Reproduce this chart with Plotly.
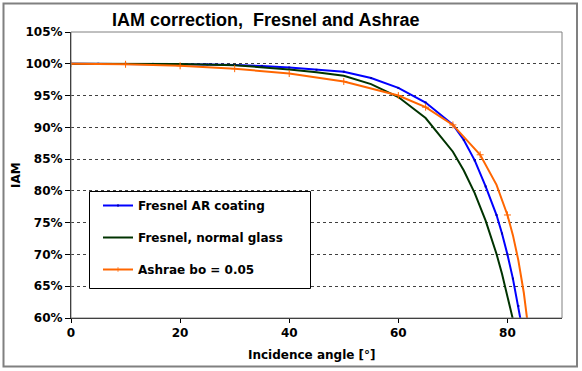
import plotly.graph_objects as go

# ---- data ----
ar_angle = [0, 5, 10, 15, 20, 25, 30, 35, 40, 45, 50, 55, 60, 65, 70, 72, 74, 76, 78, 79, 80, 81, 82, 83, 84]
ar_iam = [100, 100, 100, 99.98, 99.95, 99.9, 99.8, 99.67, 99.4, 99.05, 98.75, 97.75, 96.2, 93.9, 90.4,
          88.0, 84.8, 80.7, 76.2, 73.3, 70.0, 66.2, 61.9, 57.0, 51.0]

glass_angle = [0, 10, 20, 30, 35, 40, 45, 50, 55, 60, 65, 70, 72, 74, 76, 77, 78, 79, 80, 81, 82]
glass_iam = [100, 100, 99.97, 99.78, 99.45, 99.1, 98.65, 98.1, 96.8, 94.77, 91.46, 86.16, 83.21,
             79.64, 75.31, 72.81, 70.06, 66.96, 63.57, 59.80, 55.63]

ashrae_angle = [0, 10, 20, 30, 40, 50, 60, 65, 70, 75, 78, 80, 81, 82, 83, 84]
ashrae_iam = [100, 99.92, 99.68, 99.23, 98.47, 97.22, 95.00, 93.17, 90.38, 85.68, 80.95, 76.21,
              73.04, 69.07, 63.97, 57.17]
ashrae_marked = [0, 10, 20, 30, 40, 50, 60, 65, 70, 75, 80]

x_ticks = [0, 20, 40, 60, 80]
y_ticks = [60, 65, 70, 75, 80, 85, 90, 95, 100, 105]
y_labels = [f"{v}%" for v in y_ticks]

FONT = "DejaVu Sans, sans-serif"
TFONT = "Liberation Sans, Arial, sans-serif"

fig = go.Figure()
fig.add_trace(go.Scatter(
    x=ar_angle, y=ar_iam, mode="lines+markers", name="Fresnel AR coating",
    line=dict(color="#0000FF", width=2),
    marker=dict(symbol="square", size=2, color="#0000B0"),
    legendgroup="a"))
fig.add_trace(go.Scatter(
    x=glass_angle, y=glass_iam, mode="lines", name="Fresnel, normal glass",
    line=dict(color="#003300", width=2),
    legendgroup="b"))
fig.add_trace(go.Scatter(
    x=ashrae_angle, y=ashrae_iam, mode="lines+markers", name="Ashrae bo = 0.05",
    line=dict(color="#FF6600", width=2),
    marker=dict(symbol="cross-thin", size=[5 if a in ashrae_marked else 0 for a in ashrae_angle],
                opacity=[1 if a in ashrae_marked else 0 for a in ashrae_angle],
                line=dict(color="#FF6600", width=1)),
    legendgroup="c"))

L, R, T, B = 71, 20, 32, 53
W, H = 582, 371
pw, ph = W - L - R, H - T - B

def px_x(p):
    return (p - L) / pw

def px_y(p):
    return (H - B - p) / ph

fig.update_layout(
    width=W, height=H,
    margin=dict(l=L, r=R, t=T, b=B),
    paper_bgcolor="white", plot_bgcolor="white",
    font=dict(family=FONT, size=12, color="black", weight="bold"),
    showlegend=True,
    legend=dict(x=px_x(98), y=px_y(191), xanchor="left", yanchor="top",
                bgcolor="rgba(0,0,0,0)", borderwidth=0,
                font=dict(family=FONT, size=12, color="black", weight="bold"),
                traceorder="grouped", tracegroupgap=13, itemsizing="trace"),
    xaxis=dict(range=[0, 90], tickvals=x_ticks, showgrid=False, zeroline=False,
               showline=True, linecolor="black", linewidth=1,
               ticks="outside", ticklen=4, tickcolor="black",
               tickfont=dict(family=FONT, size=12, weight="bold")),
    yaxis=dict(range=[60, 105], tickvals=y_ticks, ticktext=y_labels,
               showgrid=True, gridcolor="#404040", griddash="3px,3px", gridwidth=1,
               zeroline=False, showline=True, linecolor="black", linewidth=1,
               ticks="outside", ticklen=5, tickcolor="black",
               tickfont=dict(family=FONT, size=12, weight="bold")),
    annotations=[
        dict(text="IAM correction,\u00a0 Fresnel and Ashrae", xref="paper", yref="paper",
             x=px_x(265), y=px_y(20), xanchor="center", yanchor="middle", showarrow=False,
             font=dict(family=TFONT, size=18, weight="bold")),
        dict(text="Incidence angle [°]", xref="paper", yref="paper",
             x=px_x(312), y=px_y(355), xanchor="center", yanchor="middle", showarrow=False,
             font=dict(family=FONT, size=12, weight="bold")),
        dict(text="IAM", xref="paper", yref="paper", textangle=-90,
             x=px_x(16), y=px_y(175), xanchor="center", yanchor="middle", showarrow=False,
             font=dict(family=FONT, size=12, weight="bold")),
    ],
    shapes=[
        dict(type="rect", xref="paper", yref="paper", x0=0, x1=1, y0=0, y1=1,
             line=dict(color="#808080", width=1), layer="above"),
        dict(type="rect", xref="paper", yref="paper",
             x0=px_x(3.5), x1=px_x(577), y0=px_y(366.5), y1=px_y(3.5),
             line=dict(color="#808080", width=2), layer="above"),
        dict(type="rect", xref="paper", yref="paper",
             x0=px_x(89.5), x1=px_x(310.5), y0=px_y(288.5), y1=px_y(191.5),
             fillcolor="white", line=dict(color="black", width=1), layer="above"),
    ],
)

fig.write_html("out.html")
